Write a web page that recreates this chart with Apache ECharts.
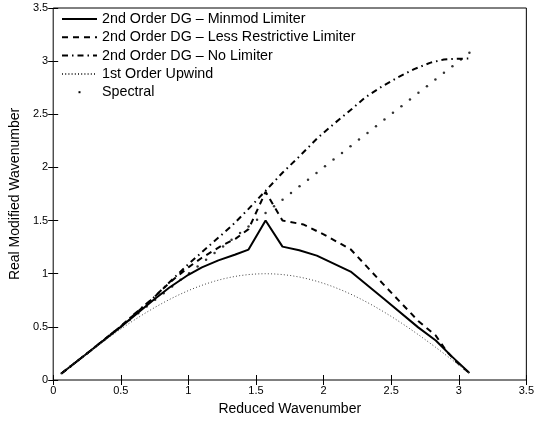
<!DOCTYPE html>
<html><head><meta charset="utf-8">
<script src="https://cdn.jsdelivr.net/npm/echarts@6/dist/echarts.min.js"></script>
<style>html,body{margin:0;padding:0;background:#fff}#c{width:537px;height:421px}</style>
</head><body><div id="c"></div>
<script>
// Reduced wavenumbers (sample grid)
const kValues = [0.0628,0.1257,0.1885,0.2513,0.3142,0.3770,0.4398,0.5027,0.5655,0.6283,0.6912,0.7540,0.8168,0.8796,0.9425,1.0053,1.0681,1.1310,1.1938,1.2566,1.3195,1.3823,1.4451,1.5080,1.5708,1.6336,1.6965,1.7593,1.8221,1.8850,1.9478,2.0106,2.0735,2.1363,2.1991,2.2619,2.3248,2.3876,2.4504,2.5133,2.5761,2.6389,2.7018,2.7646,2.8274,2.8903,2.9531,3.0159,3.0788];
// Spectral (exact) modified wavenumber
const spectralValues = [0.0628,0.1257,0.1885,0.2513,0.3142,0.3770,0.4398,0.5027,0.5655,0.6283,0.6912,0.7540,0.8168,0.8796,0.9425,1.0053,1.0681,1.1310,1.1938,1.2566,1.3195,1.3823,1.4451,1.5080,1.5708,1.6336,1.6965,1.7593,1.8221,1.8850,1.9478,2.0106,2.0735,2.1363,2.1991,2.2619,2.3248,2.3876,2.4504,2.5133,2.5761,2.6389,2.7018,2.7646,2.8274,2.8903,2.9531,3.0159,3.0788];
// 1st order upwind
const upwindValues = [0.0628,0.1253,0.1874,0.2487,0.3090,0.3681,0.4258,0.4818,0.5358,0.5878,0.6374,0.6845,0.7290,0.7705,0.8090,0.8443,0.8763,0.9048,0.9298,0.9511,0.9686,0.9823,0.9921,0.9980,1.0000,0.9980,0.9921,0.9823,0.9686,0.9511,0.9298,0.9048,0.8763,0.8443,0.8090,0.7705,0.7290,0.6845,0.6374,0.5878,0.5358,0.4818,0.4258,0.3681,0.3090,0.2487,0.1874,0.1253,0.0628];
// 2nd order DG, Minmod limiter
const minmodK =   [0.0628,0.25,0.5,0.739,0.86,1.0,1.1,1.222,1.343,1.445,1.571,1.696,1.82,1.95,2.2,2.45,2.70,2.83,2.95,3.079];
const minmodVal = [0.063,0.25,0.50,0.75,0.87,0.99,1.06,1.125,1.178,1.227,1.50,1.255,1.22,1.17,1.02,0.76,0.495,0.372,0.22,0.065];
// 2nd order DG, less restrictive limiter
const lessK =   [0.0628,0.25,0.5,0.739,0.86,1.0,1.10,1.246,1.35,1.445,1.571,1.696,1.85,2.0,2.2,2.45,2.70,2.83,2.913,3.0,3.079];
const lessVal = [0.063,0.25,0.505,0.77,0.915,1.06,1.15,1.264,1.33,1.42,1.77,1.50,1.464,1.37,1.23,0.89,0.556,0.418,0.265,0.15,0.065];
// 2nd order DG, no limiter
const noLimK =   [0.0628,0.25,0.5,0.6,0.739,0.86,1.0,1.16,1.319,1.445,1.571,1.696,1.826,1.95,2.067,2.2,2.309,2.43,2.551,2.67,2.792,2.89,2.95,3.079];
const noLimVal = [0.063,0.25,0.505,0.62,0.77,0.92,1.09,1.27,1.448,1.61,1.78,1.95,2.11,2.27,2.40,2.54,2.66,2.76,2.848,2.925,2.986,3.015,3.02,3.025];

const names = ['2nd Order DG \u2013 Minmod Limiter','2nd Order DG \u2013 Less Restrictive Limiter','2nd Order DG \u2013 No Limiter','1st Order Upwind','Spectral'];
const zip = (a,b) => a.map((v,i)=>[v,b[i]]);
const FONT = "'Liberation Sans', Arial, Helvetica, sans-serif";

const chart = echarts.init(document.getElementById('c'), null, {renderer:'canvas'});
const axisCommon = {min:0,max:3.5,interval:0.5,splitLine:{show:false},
  axisLine:{show:false}, axisTick:{inside:true,length:5,lineStyle:{color:'#000'}}};
chart.setOption({
  animation:false,
  backgroundColor:'#fff',
  grid:{left:48,right:6,top:8,bottom:34,show:true,borderColor:'#000',borderWidth:1,backgroundColor:'transparent'},
  xAxis:[
    Object.assign({type:'value',position:'bottom',name:'Reduced Wavenumber',nameLocation:'middle',nameGap:22,
      nameTextStyle:{fontFamily:FONT,fontSize:14,color:'#000'},
      axisLabel:{fontFamily:FONT,fontSize:11,color:'#000',margin:5,formatter:v=>String(v)}},axisCommon),
    Object.assign({type:'value',position:'top',axisLabel:{show:false}},axisCommon)
  ],
  yAxis:[
    Object.assign({type:'value',position:'left',name:'Real Modified Wavenumber',nameLocation:'middle',nameGap:27,
      nameTextStyle:{fontFamily:FONT,fontSize:14,color:'#000'},
      axisLabel:{fontFamily:FONT,fontSize:11,color:'#000',margin:5,formatter:v=>String(v)}},axisCommon),
    Object.assign({type:'value',position:'right',axisLabel:{show:false}},axisCommon)
  ],
  legend:{orient:'vertical',left:56,top:7,itemWidth:35,itemHeight:14,itemGap:4.3,
    textStyle:{fontFamily:FONT,fontSize:14.3,color:'#000'},
    itemStyle:{opacity:0},
    data:[names[0],names[1],names[2],names[3],
      {name:names[4],icon:'path://M0,0M35,14M16.5,6h2v2h-2Z',itemStyle:{opacity:1,color:'#000'}}]},
  series:[
    {name:names[0],type:'line',data:zip(minmodK,minmodVal),symbol:'none',lineStyle:{color:'#000',width:2,type:'solid'},itemStyle:{color:'#000'}},
    {name:names[1],type:'line',data:zip(lessK,lessVal),symbol:'none',lineStyle:{color:'#000',width:2,type:[6,5]},itemStyle:{color:'#000'}},
    {name:names[2],type:'line',data:zip(noLimK,noLimVal),symbol:'none',lineStyle:{color:'#000',width:2,type:[6,4,1.5,4]},itemStyle:{color:'#000'}},
    {name:names[3],type:'line',data:zip(kValues,upwindValues),symbol:'none',lineStyle:{color:'#444',width:1,type:[1,2.2]},itemStyle:{color:'#444'}},
    {name:names[4],type:'scatter',data:zip(kValues,spectralValues),symbol:'circle',symbolSize:2.5,itemStyle:{color:'#000'}}
  ]
});
</script></body></html>
